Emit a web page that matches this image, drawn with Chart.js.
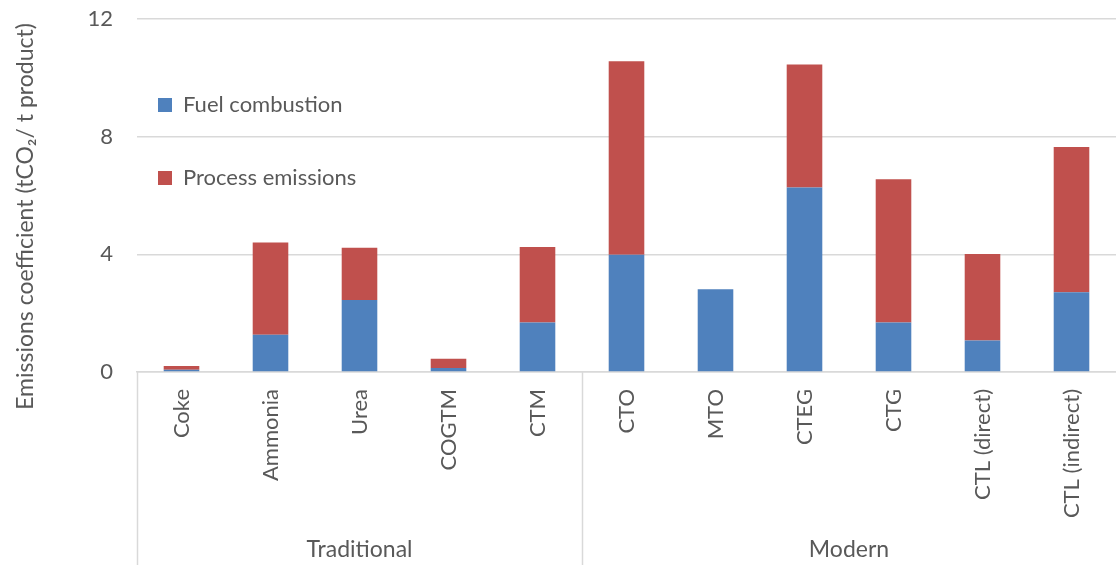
<!DOCTYPE html>
<html>
<head>
<meta charset="utf-8">
<script src="https://cdn.jsdelivr.net/npm/chart.js@4.4.0/dist/chart.umd.min.js"></script>
<style>
  html, body { margin: 0; padding: 0; background: #fff; }
  #wrap { width: 1116px; height: 565px; }
</style>
</head>
<body>
<div id="wrap"><canvas id="c"></canvas></div>
<script>
  const categories = ["Coke", "Ammonia", "Urea", "COGTM", "CTM", "CTO", "MTO", "CTEG", "CTG", "CTL (direct)", "CTL (indirect)"];
  const fuelCombustion = [0.08, 1.27, 2.45, 0.14, 1.68, 3.99, 2.81, 6.27, 1.68, 1.07, 2.71];
  const processEmissions = [0.12, 3.13, 1.77, 0.31, 2.57, 6.57, 0, 4.18, 4.87, 2.94, 4.94];
  const groupNames = ["Traditional", "Modern"];
  const groupSizes = [5, 6];
  const yTicks = [0, 4, 8, 12];

  const FONT = "Lato, 'Open Sans', sans-serif";
  const TEXT = "#595959";
  const GRID = "#d9d9d9";

  // group labels + separators under the category axis
  const groupAxis = {
    id: "groupAxis",
    afterLayout(chart) {
      // legend sits inside the plot, top-left
      const lg = chart.legend;
      if (lg) {
        const pad = lg.options.labels.padding;
        lg.left = 158 - pad;
        lg.top = 94 - pad;
      }
      // y title sits a bit lower than the plot centre
      const y = chart.scales.y;
      y.top += 21;
      y.bottom += 21;
    },
    afterDraw(chart) {
      const { ctx, chartArea, scales: { x } } = chart;
      const h = chart.height;
      ctx.save();
      ctx.strokeStyle = GRID;
      ctx.lineWidth = 1.5;
      ctx.fillStyle = TEXT;
      ctx.font = "23px " + FONT;
      ctx.textAlign = "center";
      ctx.textBaseline = "middle";
      let start = 0;
      groupSizes.forEach((n, g) => {
        const x0 = start === 0 ? chartArea.left : (x.getPixelForValue(start - 1) + x.getPixelForValue(start)) / 2;
        const end = start + n;
        const x1 = end >= categories.length ? chartArea.right : (x.getPixelForValue(end - 1) + x.getPixelForValue(end)) / 2;
        ctx.beginPath();
        ctx.moveTo(Math.round(x0) + 0.5, chartArea.bottom);
        ctx.lineTo(Math.round(x0) + 0.5, h);
        ctx.stroke();
        ctx.fillText(groupNames[g], (x0 + x1) / 2, 550);
        start = end;
      });
      ctx.restore();
    }
  };

  new Chart(document.getElementById("c"), {
    type: "bar",
    data: {
      labels: categories,
      datasets: [
        { label: "Fuel combustion", data: fuelCombustion, backgroundColor: "#4f81bd" },
        { label: "Process emissions", data: processEmissions, backgroundColor: "#c0504d" }
      ]
    },
    options: {
      responsive: true,
      maintainAspectRatio: false,
      animation: false,
      layout: { padding: { top: 19, left: 0, right: 0, bottom: 0 } },
      datasets: { bar: { barPercentage: 0.4, categoryPercentage: 1 } },
      plugins: {
        legend: {
          position: "chartArea",
          align: "start",
          labels: {
            color: TEXT,
            boxWidth: 14,
            boxHeight: 14,
            padding: 51,
            font: { family: FONT, size: 22 }
          }
        },
        tooltip: { enabled: false }
      },
      scales: {
        x: {
          stacked: true,
          grid: { display: false, drawTicks: false },
          border: { display: true, color: GRID, width: 1.5 },
          ticks: {
            color: TEXT,
            minRotation: 90,
            maxRotation: 90,
            padding: 17,
            autoSkip: false,
            font: { family: FONT, size: 22 }
          },
          afterFit(scale) { scale.height = 193; }
        },
        y: {
          stacked: true,
          min: 0,
          max: 12,
          afterBuildTicks(scale) { scale.ticks = yTicks.map(v => ({ value: v })); },
          grid: { color: GRID, lineWidth: 1.5, drawTicks: true, tickLength: 22, tickColor: "rgba(0,0,0,0)" },
          border: { display: false },
          ticks: {
            color: TEXT,
            padding: 2,
            font: { family: FONT, size: 22 }
          },
          title: {
            display: true,
            text: "Emissions coefficient (tCO₂/ t product)",
            color: TEXT,
            padding: { top: 12, bottom: 0 },
            font: { family: FONT, size: 23 }
          },
          afterFit(scale) { scale.width = 137; }
        }
      }
    },
    plugins: [groupAxis]
  });
</script>
</body>
</html>
